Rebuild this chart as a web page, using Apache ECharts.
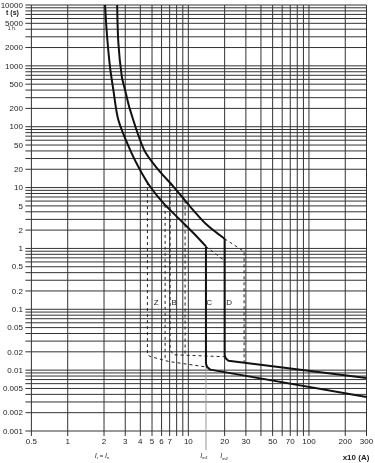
<!DOCTYPE html>
<html><head><meta charset="utf-8">
<script src="https://cdn.jsdelivr.net/npm/echarts@6/dist/echarts.min.js"></script>
<style>html,body{margin:0;padding:0;background:#fff}#c{width:375px;height:463px}</style>
</head><body><div id="c"></div>
<script>
// ---- axis ranges & tick values ----
const X_MIN = 0.5, X_MAX = 300, Y_MIN = 0.001, Y_MAX = 10000;
const xGridValues = [0.5,1,2,3,4,5,6,7,8,9,10,20,30,40,50,60,70,80,90,100,200,300];
const xTickLabels = ['0.5','1','2','3','4','5','6','7','10','20','30','50','70','100','200','300'];
const yGridValues = [
  0.001,0.002,0.003,0.004,0.005,0.006,0.007,0.008,0.009,
  0.01,0.02,0.03,0.04,0.05,0.06,0.07,0.08,0.09,
  0.1,0.2,0.3,0.4,0.5,0.6,0.7,0.8,0.9,
  1,2,3,4,5,6,7,8,9,
  10,20,30,40,50,60,70,80,90,
  100,200,300,400,500,600,700,800,900,
  1000,2000,3000,4000,5000,6000,7000,8000,9000,
  10000];
const yTickLabels = ['10000','5000','2000','1000','500','200','100','50','20','10','5','2','1',
  '0.5','0.2','0.1','0.05','0.02','0.01','0.005','0.002','0.001'];

// ---- curves (x = multiple of In, t in seconds) ----
const thermalLow = [[2.04,10000],[2.11,3470],[2.24,970],[2.39,402],[2.63,129],[3.29,41.6],
  [3.98,19.5],[4.82,10.4],[6.21,5.54],[8.55,2.95],[11.17,1.74],[14,1.08]];
const thermalHigh = [[2.57,10000],[2.63,2377],[2.81,665],[2.99,402],[3.29,189],[4.30,41.6],
  [5.65,19.5],[7.52,10.4],[10.35,4.88],[14.24,2.44],[20,1.44]];
const magneticC = [[14,1.08],[14,0.013],[14.3,0.0113],[15.2,0.0102],[300,0.00362]];
const magneticD = [[20,1.44],[20,0.0175],[20.5,0.0155],[21.5,0.0143],[300,0.00741]];
const dashC = [[14,1.08],[20,0.625]];
const dashD = [[20,1.44],[29,0.889],[29,0.0132]];
const dashZ = [[4.58,12.3],[4.58,0.0179],[4.82,0.0168],[6.84,0.0139],[14,0.0113]];
const dashB1 = [[6.42,5.2],[6.42,0.0144]];
const dashB2 = [[7.06,11.9],[7.06,0.0216],[7.52,0.0179],[20,0.0166]];
const dashB3 = [[9.4,6.12],[9.4,0.0176]];
const zoneLabels = [['Z',5.41,0.128],['B',7.63,0.128],['C',14.9,0.128],['D',21.8,0.128]];
const im1Value = [14, 0.013];

const FONT = '"Liberation Sans", Arial, sans-serif';
const INK = '#222';
const GRID = '#333';

const chart = echarts.init(document.getElementById('c'), null, {renderer:'canvas', width:375, height:463});

function ln(x1,y1,x2,y2,stroke,w){return {type:'line',shape:{x1:x1,y1:y1,x2:x2,y2:y2},style:{stroke:stroke,lineWidth:w||1}};}
function hiddenAxis(min,max){
  return {type:'log', logBase:10, min:min, max:max,
    axisLine:{show:false}, axisTick:{show:false}, axisLabel:{show:false},
    splitLine:{show:false}, minorTick:{show:false}, minorSplitLine:{show:false}};
}
function solid(data, smooth){
  return {type:'line', data:data, symbol:'none', smooth:smooth||false, z:5, silent:true,
    lineStyle:{color:'#111', width:2}};
}
function dashed(data){
  return {type:'line', data:data, symbol:'none', z:4, silent:true,
    lineStyle:{color:'#222', width:1, type:[3,3]}};
}

const option = {
  animation:false,
  backgroundColor:'#fff',
  grid:{left:31.4, right:8.5, top:5, bottom:32, containLabel:false},
  xAxis: hiddenAxis(X_MIN, X_MAX),
  yAxis: hiddenAxis(Y_MIN, Y_MAX),
  series:[
    { // horizontal grid lines + left ticks
      type:'custom', silent:true, z:1, clip:false,
      data: yGridValues.map(v => [X_MIN, v]),
      renderItem:(p, api) => {
        const a = api.coord([X_MIN, api.value(1)]);
        const b = api.coord([X_MAX, api.value(1)]);
        return {type:'group', children:[
          ln(a[0], a[1], b[0], b[1], GRID, 1),
          ln(a[0]-6, a[1], a[0], a[1], GRID, 1)
        ]};
      }
    },
    { // vertical grid lines + bottom ticks
      type:'custom', silent:true, z:1, clip:false,
      data: xGridValues.map(v => [v, Y_MIN]),
      renderItem:(p, api) => {
        const a = api.coord([api.value(0), Y_MIN]);
        const b = api.coord([api.value(0), Y_MAX]);
        return {type:'group', children:[
          ln(a[0], a[1], b[0], b[1], GRID, 1),
          ln(a[0], a[1], a[0], a[1]+5, GRID, 1)
        ]};
      }
    },
    { // y tick labels
      type:'custom', silent:true, z:2, clip:false,
      data: yTickLabels.map(s => [X_MIN, Number(s)]),
      renderItem:(p, api) => {
        const a = api.coord([X_MIN, api.value(1)]);
        return {type:'text', x:a[0]-8.5, y:a[1]+0.5,
          style:{text:yTickLabels[p.dataIndex], align:'right', verticalAlign:'middle',
            font:'8px ' + FONT, fill:INK}};
      }
    },
    { // x tick labels
      type:'custom', silent:true, z:2, clip:false,
      data: xTickLabels.map(s => [Number(s), Y_MIN]),
      renderItem:(p, api) => {
        const a = api.coord([api.value(0), Y_MIN]);
        return {type:'text', x:a[0], y:a[1]+11,
          style:{text:xTickLabels[p.dataIndex], align:'center', verticalAlign:'middle',
            font:'8px ' + FONT, fill:INK}};
      }
    },
    { // Im1 marker line
      type:'custom', silent:true, z:2, clip:false,
      data:[im1Value],
      renderItem:(p, api) => {
        const a = api.coord([api.value(0), api.value(1)]);
        const b = api.coord([api.value(0), Y_MIN]);
        return ln(a[0], a[1], b[0], b[1]+19, '#999', 1);
      }
    },
    solid(thermalLow, 0.3),
    solid(thermalHigh, 0.3),
    solid(magneticC),
    solid(magneticD),
    dashed(dashC), dashed(dashD), dashed(dashZ), dashed(dashB1), dashed(dashB2), dashed(dashB3),
    { // zone letters
      type:'custom', silent:true, z:6, clip:false,
      data: zoneLabels.map(z => [z[1], z[2]]),
      renderItem:(p, api) => {
        const a = api.coord([api.value(0), api.value(1)]);
        return {type:'text', x:a[0], y:a[1],
          style:{text:zoneLabels[p.dataIndex][0], align:'center', verticalAlign:'middle',
            font:'8px ' + FONT, fill:INK}};
      }
    }
  ],
  graphic:[
    {type:'text', x:12.5, y:13.5, silent:true,
      style:{text:'t (s)', align:'center', verticalAlign:'middle', font:'bold 7px ' + FONT, fill:INK}},
    {type:'text', x:12, y:29, silent:true,
      style:{text:'1 h.', align:'center', verticalAlign:'middle', font:'5px ' + FONT, fill:INK}},
    {type:'text', x:356, y:458, silent:true,
      style:{text:'x10 (A)', align:'center', verticalAlign:'middle', font:'bold 8px ' + FONT, fill:INK}},
    {type:'text', x:102, y:456, silent:true,
      style:{text:'{i|I}{s|r}{n| = }{i|I}{s|n}', align:'center', verticalAlign:'middle',
        rich:{i:{font:'italic 7px ' + FONT, fill:INK}, s:{font:'italic 4px ' + FONT, fill:INK, padding:[4,0,0,0]},
              n:{font:'6px ' + FONT, fill:INK}}}},
    {type:'text', x:204, y:456, silent:true,
      style:{text:'{i|I}{s|m1}', align:'center', verticalAlign:'middle',
        rich:{i:{font:'italic 7px ' + FONT, fill:INK}, s:{font:'italic 4px ' + FONT, fill:INK, padding:[4,0,0,0]}}}},
    {type:'text', x:224, y:456.5, silent:true,
      style:{text:'{i|I}{s|m2}', align:'center', verticalAlign:'middle',
        rich:{i:{font:'italic 7px ' + FONT, fill:INK}, s:{font:'italic 4px ' + FONT, fill:INK, padding:[4,0,0,0]}}}}
  ]
};
chart.setOption(option);
</script>
</body></html>
